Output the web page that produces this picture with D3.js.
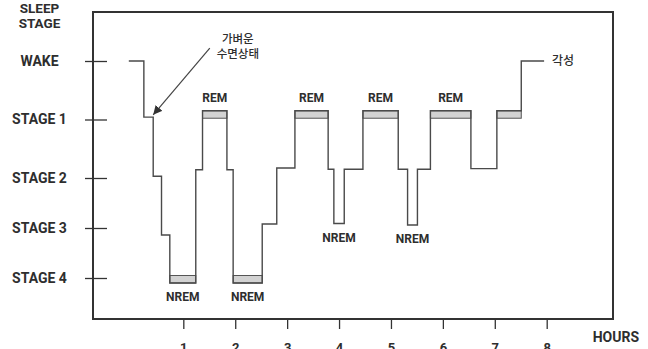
<!DOCTYPE html>
<html>
<head>
<meta charset="utf-8">
<script src="https://cdn.jsdelivr.net/npm/d3@7"></script>
<style>
  body { margin: 0; background: #fff; }
  svg text { font-family: Roboto, "DejaVu Sans", sans-serif; fill: #2e2e2e; }
</style>
</head>
<body>
<div id="chart"></div>
<script>
// sleep stages on the y axis
const stageNames = ["WAKE", "STAGE 1", "STAGE 2", "STAGE 3", "STAGE 4"];
const hourTicks = [1, 2, 3, 4, 5, 6, 7, 8];

// hypnogram: step boundaries (hours) and level of each step (stage units)
const stepHours = [-0.05, 0.24, 0.42, 0.58, 0.74, 1.24, 1.37, 1.84, 1.96, 2.52, 2.80, 3.15,
                   3.79, 3.90, 4.10, 4.46, 5.14, 5.32, 5.51, 5.76, 6.54, 7.04, 7.51, 7.95];
const stepLevels = [0, 0.96, 1.97, 3.14, 4.1, 1.86, 0.85, 1.86, 4.1, 2.92, 1.83, 0.85,
                    1.85, 2.91, 1.85, 0.85, 1.85, 2.94, 1.85, 0.85, 1.84, 0.85, 0];

// shaded steps and labelled steps (index into stepLevels)
const barSteps = [4, 6, 8, 11, 15, 19, 21];
const labelSteps = [4, 6, 8, 11, 13, 15, 17, 19];
const labelTexts = ["NREM", "REM", "NREM", "REM", "NREM", "REM", "NREM", "REM"];

const width = 648, height = 349;
const frame = { left: 93, top: 12, right: 613, bottom: 319 };

const svg = d3.select("#chart").append("svg")
  .attr("width", width)
  .attr("height", height);

const x = d3.scaleLinear()
  .domain([0, 8])
  .range([131.4, 546.7]);

const y = d3.scaleLinear()
  .domain([0, 1, 2, 3, 4])
  .range([61, 119.5, 178, 228, 278]);

// frame
svg.append("rect")
  .attr("x", frame.left)
  .attr("y", frame.top)
  .attr("width", frame.right - frame.left)
  .attr("height", frame.bottom - frame.top)
  .attr("fill", "none")
  .attr("stroke", "#333")
  .attr("stroke-width", 2);

// y axis
const yAxis = svg.append("g")
  .attr("transform", `translate(${frame.left}, 0)`)
  .call(d3.axisLeft(y).tickValues([0, 1, 2, 3, 4]).tickSize(8).tickFormat(i => stageNames[i]));
yAxis.select(".domain").remove();
yAxis.selectAll(".tick line")
  .attr("x1", -8).attr("x2", 14)
  .attr("stroke", "#333").attr("stroke-width", 1.3);
yAxis.selectAll(".tick text")
  .attr("x", -53.5)
  .attr("text-anchor", "middle")
  .style("font-size", "14px")
  .style("font-weight", 700);

// y axis title
const yTitle = svg.append("text")
  .attr("x", 39.5)
  .attr("y", 13)
  .attr("text-anchor", "middle")
  .style("font-size", "13.5px")
  .style("font-weight", 700);
yTitle.append("tspan").attr("x", 39.5).attr("dy", 0).text("SLEEP");
yTitle.append("tspan").attr("x", 39.5).attr("dy", 14.5).text("STAGE");

// x axis
const xAxis = svg.append("g")
  .attr("transform", `translate(0, ${frame.bottom})`)
  .call(d3.axisBottom(x).tickValues(hourTicks).tickSize(10).tickPadding(14));
xAxis.select(".domain").remove();
xAxis.selectAll(".tick line").attr("stroke", "#333").attr("stroke-width", 1.3);
xAxis.selectAll(".tick text")
  .style("font-size", "13px")
  .style("font-weight", 700);

svg.append("text")
  .attr("x", 639)
  .attr("y", 341.5)
  .attr("text-anchor", "end")
  .style("font-size", "14px")
  .style("font-weight", 700)
  .text("HOURS");

// shaded bars (REM bars sit below the step top, NREM bars above the step bottom)
const barH = 7.5;
svg.append("g")
  .selectAll("rect")
  .data(barSteps)
  .join("rect")
  .attr("x", i => x(stepHours[i]))
  .attr("width", i => x(stepHours[i + 1]) - x(stepHours[i]))
  .attr("y", i => stepLevels[i] < 1 ? y(stepLevels[i]) : y(stepLevels[i]) - barH)
  .attr("height", barH)
  .attr("fill", "#d2d2d2")
  .attr("stroke", "#555")
  .attr("stroke-width", 1);

// hypnogram step line
const points = [];
stepLevels.forEach((lv, i) => {
  points.push([stepHours[i], lv]);
  points.push([stepHours[i + 1], lv]);
});
svg.append("path")
  .datum(points)
  .attr("fill", "none")
  .attr("stroke", "#4a4a4a")
  .attr("stroke-width", 1.4)
  .attr("d", d3.line().x(d => x(d[0])).y(d => y(d[1])));

// REM / NREM labels
svg.append("g")
  .selectAll("text")
  .data(labelSteps)
  .join("text")
  .attr("x", i => (x(stepHours[i]) + x(stepHours[i + 1])) / 2)
  .attr("y", (i, k) => labelTexts[k] === "REM" ? y(stepLevels[i]) - 8.5 : y(stepLevels[i]) + 18)
  .attr("text-anchor", "middle")
  .style("font-size", "12px")
  .style("font-weight", 700)
  .text((i, k) => labelTexts[k]);

// annotation: light sleep arrow
svg.append("defs").append("marker")
  .attr("id", "arrow")
  .attr("viewBox", "0 0 10 10")
  .attr("refX", 10).attr("refY", 5)
  .attr("markerWidth", 9).attr("markerHeight", 9)
  .attr("markerUnits", "userSpaceOnUse")
  .attr("orient", "auto")
  .append("path")
  .attr("d", "M0,0 L10,5 L0,10 Z")
  .attr("fill", "#333");

svg.append("line")
  .attr("x1", x(1.51)).attr("y1", y(-0.22))
  .attr("x2", x(0.42)).attr("y2", y(0.92))
  .attr("stroke", "#444")
  .attr("stroke-width", 1.2)
  .attr("marker-end", "url(#arrow)");

const noteLines = ["가벼운", "수면상태"];
svg.append("g")
  .selectAll("text")
  .data(noteLines)
  .join("text")
  .attr("x", x(2.05))
  .attr("y", (d, i) => y(-0.37) + 4 + i * 15)
  .attr("text-anchor", "middle")
  .style("font-size", "11.5px")
  .style("font-family", "'Noto Sans CJK KR', sans-serif")
  .style("font-weight", 500)
  .text(d => d);

svg.append("text")
  .attr("x", x(8.1))
  .attr("y", y(0) + 4)
  .style("font-size", "12px")
  .style("font-family", "'Noto Sans CJK KR', sans-serif")
  .style("font-weight", 500)
  .text("각성");
</script>
</body>
</html>
